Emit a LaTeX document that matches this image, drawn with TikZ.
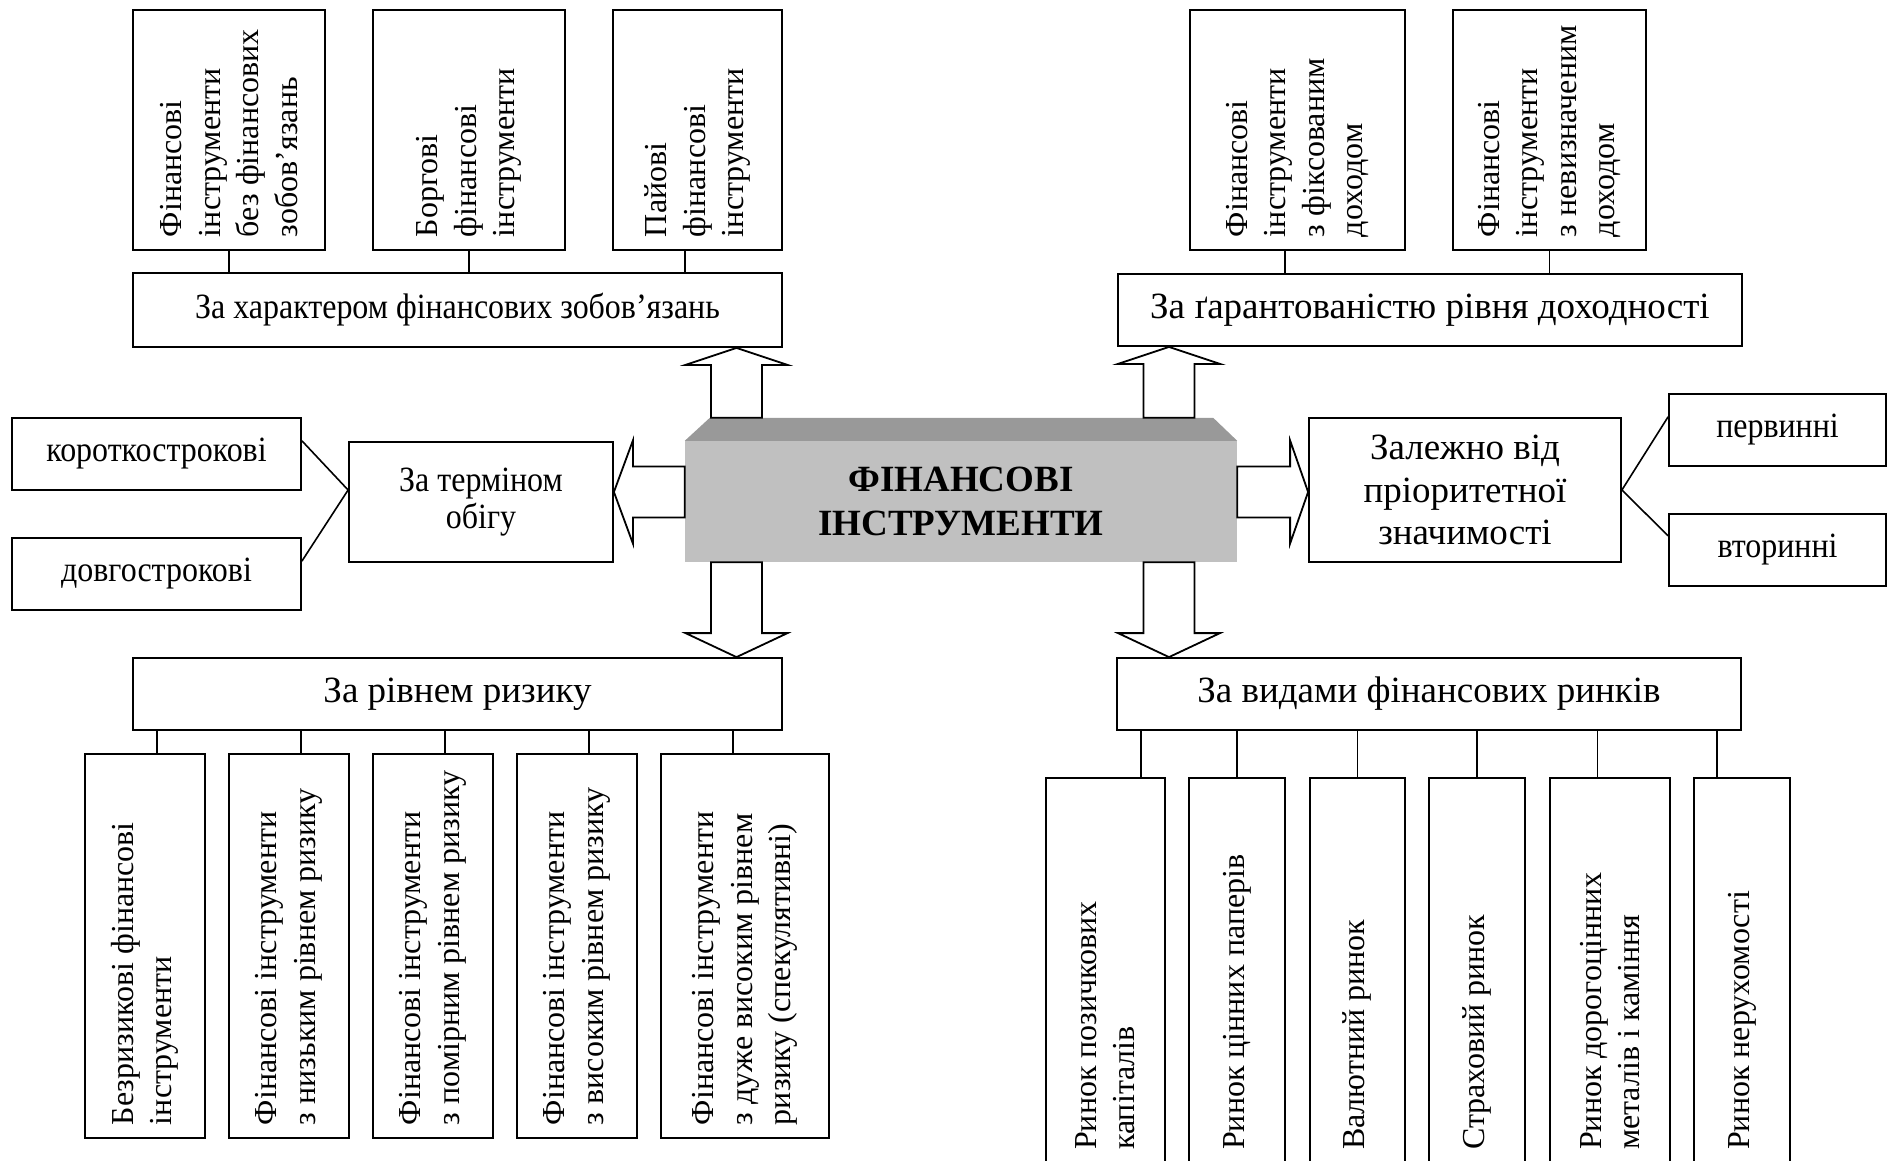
\documentclass[tikz,border=0pt]{standalone}
\usepackage{fontspec}
\usepackage{graphicx}
\setmainfont{Liberation Serif}
\newfontfamily\narrowfont[FakeStretch=0.9]{Liberation Serif}
\usetikzlibrary{calc}

\definecolor{facegray}{RGB}{192,192,192}
\definecolor{topgray}{RGB}{153,153,153}

\newcommand{\bigfont}{\fontsize{37}{42.5}\selectfont}
\newcommand{\smallfont}{\narrowfont\fontsize{35.5}{37}\selectfont}
\newcommand{\corefont}{\fontsize{37}{44}\selectfont\bfseries}
% rotated text, read from bottom to top
\newcommand{\vtext}[2]{\rotatebox{90}{\parbox{#1pt}{\raggedright\fontsize{32}{38.5}\selectfont #2}}}
% outlined block arrows: tail, tip, signed head length
\newcommand{\varrow}[3]{%
  \draw[blk] ($(#1)+(-25.5,0)$) -- ($(#2)+(-25.5,#3)$) -- ($(#2)+(-51,#3)$) -- (#2)
    -- ($(#2)+(51,#3)$) -- ($(#2)+(25.5,#3)$) -- ($(#1)+(25.5,0)$) -- cycle;}
\newcommand{\harrow}[3]{%
  \draw[blk] ($(#1)+(0,-25.5)$) -- ($(#2)+(#3,-25.5)$) -- ($(#2)+(#3,-51.5)$) -- (#2)
    -- ($(#2)+(#3,51.5)$) -- ($(#2)+(#3,25.5)$) -- ($(#1)+(0,25.5)$) -- cycle;}

\tikzset{
  hbox/.style={draw, line width=1.8pt, inner sep=0pt, align=center},
  vbox/.style={draw, line width=1.8pt, inner sep=0pt},
  core/.style={fill=facegray, inner sep=0pt, align=center, font=\corefont},
  blk/.style={draw, fill=white, line width=1.8pt, line join=miter},
  link/.style={line width=1.6pt},
}

\begin{document}
\begin{tikzpicture}[x=1pt,y=1pt,yscale=-1]
\useasboundingbox (0,0) rectangle (1894,1161);

% centre block
\node[core, minimum width=552, minimum height=121] (core) at (961,501.5) {ФІНАНСОВІ\\ІНСТРУМЕНТИ};
\fill[topgray] (core.north west) -- ++(25,-23) -- ($(core.north east)+(-24,-23)$) -- (core.north east) -- cycle;
\coordinate (coretop) at ($(core.north)+(0,-23)$);
\coordinate (axL) at (736.5,0);
\coordinate (axR) at (1169,0);
\coordinate (axM) at (0,492);

% top left
\node[vbox, minimum width=192, minimum height=240] (nofin) at (229,130) {\vtext{214}{Фінансові\\інструменти\\без~фінансових\\зобов’язань}};
\node[vbox, minimum width=192, minimum height=240] (borg) at (469,130) {\vtext{214}{Боргові\\фінансові\\інструменти}};
\node[vbox, minimum width=169, minimum height=240] (pay) at (697.5,130) {\vtext{214}{Пайові\\фінансові\\інструменти}};
\node[hbox, minimum width=649, minimum height=74, font=\smallfont] (zobov) at (457.5,310) {За характером фінансових зобов’язань};

% top right
\node[vbox, minimum width=215.4, minimum height=240] (fix) at (1297.3,130) {\vtext{214}{Фінансові\\інструменти\\з~фіксованим\\доходом}};
\node[vbox, minimum width=193, minimum height=240] (nevyz) at (1549.5,130) {\vtext{214}{Фінансові\\інструменти\\з~невизначеним\\доходом}};
\node[hbox, minimum width=624.3, minimum height=72, font=\bigfont] (dohid) at (1429.9,310) {За ґарантованістю рівня доходності};

% left
\node[hbox, minimum width=289, minimum height=72, font=\smallfont] (korot) at (156.5,454) {короткострокові};
\node[hbox, minimum width=289, minimum height=72, font=\smallfont] (dovh) at (156.5,574) {довгострокові};
\node[hbox, minimum width=264, minimum height=120, font=\smallfont] (termin) at (481,502) {За терміном\\обігу};

% right
\node[hbox, minimum width=312, minimum height=144, font=\bigfont] (zalezh) at (1465,490) {Залежно від\\пріоритетної\\значимості};
\node[hbox, minimum width=217, minimum height=72, font=\smallfont] (perv) at (1777.5,430) {первинні};
\node[hbox, minimum width=217, minimum height=72, font=\smallfont] (vtor) at (1777.5,550) {вторинні};

% bottom left
\node[hbox, minimum width=649, minimum height=72, font=\bigfont] (ryzyk) at (457.5,694) {За рівнем ризику};
\node[vbox, minimum width=120, minimum height=384] (r1) at (145,946) {\vtext{358}{Безризикові фінансові\\інструменти}};
\node[vbox, minimum width=120, minimum height=384] (r2) at (289,946) {\vtext{358}{Фінансові інструменти\\з низьким рівнем ризику}};
\node[vbox, minimum width=120, minimum height=384] (r3) at (433,946) {\vtext{358}{Фінансові інструменти\\з помірним рівнем ризику}};
\node[vbox, minimum width=120, minimum height=384] (r4) at (577,946) {\vtext{358}{Фінансові інструменти\\з високим рівнем ризику}};
\node[vbox, minimum width=168, minimum height=384] (r5) at (745,946) {\vtext{358}{Фінансові інструменти\\з дуже високим рівнем\\ризику (спекулятивні)}};

% bottom right
\node[hbox, minimum width=624, minimum height=72, font=\bigfont] (rynky) at (1429,694) {За видами фінансових ринків};
\node[vbox, minimum width=119.4, minimum height=386.3] (m1) at (1105.3,970.85) {\vtext{358}{Ринок позичкових\\капіталів}};
\node[vbox, minimum width=96, minimum height=386.3] (m2) at (1237,970.85) {\vtext{358}{Ринок цінних паперів}};
\node[vbox, minimum width=95.4, minimum height=386.3] (m3) at (1357.3,970.85) {\vtext{358}{Валютний ринок}};
\node[vbox, minimum width=96, minimum height=386.3] (m4) at (1477,970.85) {\vtext{358}{Страховий ринок}};
\node[vbox, minimum width=120.3, minimum height=386.3] (m5) at (1609.85,970.85) {\vtext{358}{Ринок дорогоцінних\\металів і каміння}};
\node[vbox, minimum width=95.7, minimum height=386.3] (m6) at (1741.85,970.85) {\vtext{358}{Ринок нерухомості}};

% connectors
\foreach \b/\dx in {nofin/0, borg/0, pay/-12.5}
  \draw[link] ($(\b.south)+(\dx,0)$) -- ($(\b.south |- zobov.north)+(\dx,0)$);
\foreach \b/\dx in {fix/-12.3, nevyz/0}
  \draw[link] ($(\b.south)+(\dx,0)$) -- ($(\b.south |- dohid.north)+(\dx,0)$);
\foreach \b/\dx in {r1/12, r2/12, r3/12, r4/12, r5/-12}
  \draw[link] ($(\b.north)+(\dx,0)$) -- ($(\b.north |- ryzyk.south)+(\dx,0)$);
\foreach \b/\dx in {m1/35.7, m2/0, m3/0, m4/0, m5/-12.3, m6/-24.9}
  \draw[link] ($(\b.north)+(\dx,0)$) -- ($(\b.north |- rynky.south)+(\dx,0)$);
\draw[link] ($(korot.north east)+(0,23.7)$) -- ($(termin.west)+(0,-12)$) -- ($(dovh.north east)+(0,24)$);
\draw[link] ($(perv.north west)+(0,23.7)$) -- (zalezh.east) -- ($(vtor.north west)+(0,22.7)$);

% block arrows
\varrow{axL |- coretop}{axL |- zobov.south}{17}
\varrow{axR |- coretop}{axR |- dohid.south}{17}
\varrow{axL |- core.south}{axL |- ryzyk.north}{-24}
\varrow{axR |- core.south}{axR |- rynky.north}{-24}
\harrow{core.west |- axM}{termin.east |- axM}{19}
\harrow{core.east |- axM}{zalezh.west |- axM}{-18}
\end{tikzpicture}
\end{document}
